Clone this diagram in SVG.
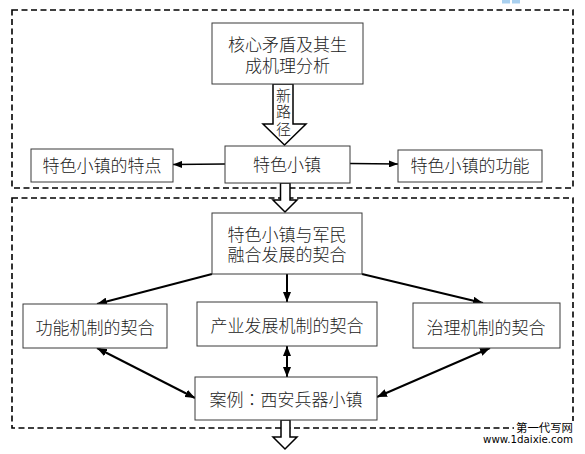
<svg xmlns="http://www.w3.org/2000/svg" width="585" height="454" viewBox="0 0 585 454">
<style>
.frame{fill:none;stroke:#000;stroke-width:1.6;stroke-dasharray:6 3.5}
.box{fill:#fff;stroke:#3a3a3a;stroke-width:1}
.t{font-family:"Noto Sans CJK SC","Noto Sans",sans-serif;font-size:17px;font-weight:300;fill:#222;text-anchor:middle}
.hollow{fill:#fff;stroke:#000;stroke-width:1.5;stroke-linejoin:miter}
.ln{stroke:#000;stroke-width:1.5;fill:none}
.lt{stroke:#000;stroke-width:2;fill:none}
.wm{font-family:"Noto Sans CJK SC",sans-serif;font-size:11.5px;fill:#000}
.wu{font-family:"DejaVu Sans",sans-serif;font-size:11px;fill:#000}
</style>
<defs>
<marker id="ah" viewBox="0 0 10 8" refX="10" refY="4" markerWidth="10" markerHeight="8" markerUnits="userSpaceOnUse" orient="auto-start-reverse">
<path d="M0,0 L10,4 L0,8 Z" fill="#000"/>
</marker>
<marker id="ahs" viewBox="0 0 9 7" refX="9" refY="3.5" markerWidth="9" markerHeight="7" markerUnits="userSpaceOnUse" orient="auto-start-reverse">
<path d="M0,0 L9,3.5 L0,7 Z" fill="#000"/>
</marker>
</defs>
<rect width="585" height="454" fill="#fff"/>
<rect x="502" y="0" width="8" height="3.5" fill="#a9d0ef"/>
<rect x="512" y="0" width="8" height="3.5" fill="#a9d0ef"/>
<g id="frames">
<rect class="frame" x="12" y="10" width="561" height="178"/>
<rect class="frame" x="12" y="198" width="561" height="230"/>
</g>
<g id="connectors">
<path class="hollow" d="M273,84 L293,84 L293,124 L306,124 L284.5,145 L263,124 L273,124 Z"/>
<path class="hollow" d="M280.5,183 L290,183 L290,200 L297,200 L285,212 L273,200 L280.5,200 Z"/>
<path class="hollow" d="M281,420 L290,420 L290,437 L297,437 L285,449 L273,437 L281,437 Z"/>
<line class="ln" x1="225" y1="164" x2="173" y2="164.5" marker-end="url(#ahs)"/>
<line class="ln" x1="350" y1="163.5" x2="398" y2="164" marker-end="url(#ahs)"/>
<line class="lt" x1="212" y1="274" x2="97" y2="304" marker-end="url(#ah)"/>
<line class="lt" x1="287" y1="274" x2="287" y2="302" marker-end="url(#ah)"/>
<line class="lt" x1="362" y1="274" x2="483" y2="303" marker-end="url(#ah)"/>
<line class="lt" x1="97" y1="348" x2="195" y2="398" marker-start="url(#ah)" marker-end="url(#ah)"/>
<line class="lt" x1="287" y1="346" x2="287" y2="377" marker-start="url(#ah)" marker-end="url(#ah)"/>
<line class="lt" x1="490" y1="348" x2="377" y2="397" marker-start="url(#ah)" marker-end="url(#ah)"/>
</g>
<g id="n-core">
<rect class="box" x="212" y="23" width="151" height="61"/>
<text class="t"><tspan x="287.5" y="51">核心矛盾及其生</tspan><tspan x="287.5" y="72">成机理分析</tspan></text>
</g>
<g id="n-newpath">
<text class="t" style="font-size:15px"><tspan x="283.5" y="101">新</tspan><tspan x="283.5" y="117">路</tspan><tspan x="283.5" y="135">径</tspan></text>
</g>
<g id="n-town">
<rect class="box" x="225" y="146" width="125" height="37"/>
<text class="t" x="287" y="171">特色小镇</text>
</g>
<g id="n-features">
<rect class="box" x="31" y="149" width="142" height="33"/>
<text class="t" x="102" y="172">特色小镇的特点</text>
</g>
<g id="n-functions">
<rect class="box" x="398" y="150" width="144" height="32"/>
<text class="t" x="470" y="172">特色小镇的功能</text>
</g>
<g id="n-fit">
<rect class="box" x="212" y="213" width="150" height="61"/>
<text class="t"><tspan x="287" y="241">特色小镇与军民</tspan><tspan x="287" y="261">融合发展的契合</tspan></text>
</g>
<g id="n-func-mech">
<rect class="box" x="23" y="304" width="144" height="44"/>
<text class="t" x="95" y="334">功能机制的契合</text>
</g>
<g id="n-ind-mech">
<rect class="box" x="197" y="302" width="180" height="44"/>
<text class="t" x="287" y="332">产业发展机制的契合</text>
</g>
<g id="n-gov-mech">
<rect class="box" x="413" y="303" width="147" height="45"/>
<text class="t" x="486" y="334">治理机制的契合</text>
</g>
<g id="n-case">
<rect class="box" x="195" y="377" width="182" height="43"/>
<text class="t" x="286" y="406">案例<tspan style="font-family:'Noto Sans CJK TC','Noto Sans CJK SC',sans-serif">：</tspan>西安兵器小镇</text>
</g>
<g id="watermark">
<rect x="514" y="421" width="62" height="12" fill="#fff"/>
<text class="wm" x="516" y="432" textLength="57" lengthAdjust="spacingAndGlyphs">第一代写网</text>
<text class="wu" x="483" y="443" textLength="90" lengthAdjust="spacingAndGlyphs">www.1daixie.com</text>
</g>
</svg>
